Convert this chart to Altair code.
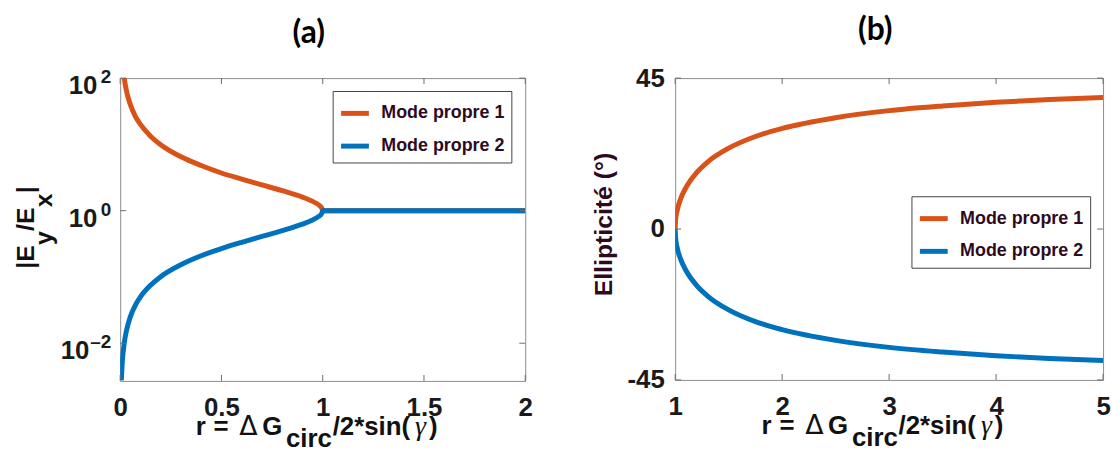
import altair as alt
import pandas as pd

MODE1 = "Mode propre 1"
MODE2 = "Mode propre 2"
ORANGE = "#D95319"
BLUE = "#0072BD"
FRAME = "#8c8c8c"
TICK = "#6e6e6e"
MAROON = "#2d0b1f"
LABEL = "#1a1a1a"
FONT = "Liberation Sans"

# ---- panel (a): |Ey/Ex| versus r
ra_mode1 = [0.015, 0.02, 0.03, 0.05, 0.075, 0.1, 0.15, 0.2, 0.3, 0.4, 0.5, 0.6, 0.7, 0.8, 0.9, 0.95, 0.98, 0.995, 1.0, 1.5, 2.0]
ya_mode1 = [133, 100, 66, 40, 26.5, 20, 13.3, 9.9, 6.5, 4.8, 3.7, 3.0, 2.45, 2.0, 1.6, 1.38, 1.22, 1.1, 1.0, 1.0, 1.0]
ra_mode2 = [0.0055, 0.01, 0.02, 0.03, 0.05, 0.075, 0.1, 0.15, 0.2, 0.3, 0.4, 0.5, 0.6, 0.7, 0.8, 0.9, 0.95, 0.98, 0.995, 1.0, 1.5, 2.0]
ya_mode2 = [0.00275, 0.005, 0.01, 0.015, 0.025, 0.0376, 0.05, 0.075, 0.101, 0.153, 0.209, 0.268, 0.333, 0.408, 0.5, 0.627, 0.724, 0.818, 0.905, 1.0, 1.0, 1.0]

# ---- panel (b): ellipticity (deg) versus r
rb = [1.0, 1.005, 1.02, 1.05, 1.1, 1.2, 1.3, 1.5, 1.75, 2.0, 2.5, 3.0, 3.5, 4.0, 4.5, 5.0]
ell_mode1 = [0, 2.9, 5.7, 8.9, 12.3, 16.8, 19.9, 24.1, 27.6, 30.0, 33.2, 35.3, 36.7, 37.8, 38.6, 39.2]
ell_mode2 = [0, -2.9, -5.7, -8.9, -12.3, -16.8, -19.9, -24.1, -27.6, -30.0, -33.2, -35.3, -36.7, -37.8, -38.6, -39.2]

xa_ticks = [0, 0.5, 1, 1.5, 2]
ya_ticks = [0.01, 1, 100]
ya_exponents = ["\u20132", "0", "2"]
xb_ticks = [1, 2, 3, 4, 5]
yb_ticks = [-45, 0, 45]

WA, HA = 408, 305
WB, HB = 431, 304

df_a = pd.DataFrame({
    "r": ra_mode1 + ra_mode2,
    "v": ya_mode1 + ya_mode2,
    "mode": [MODE1] * len(ra_mode1) + [MODE2] * len(ra_mode2),
})
df_b = pd.DataFrame({
    "r": rb + rb,
    "v": ell_mode1 + ell_mode2,
    "mode": [MODE1] * len(rb) + [MODE2] * len(rb),
})

xa_scale = alt.Scale(domain=[0, 2], nice=False, zero=False)
ya_scale = alt.Scale(type="log", domain=[0.0027, 100], nice=False)
xb_scale = alt.Scale(domain=[1, 5], nice=False, zero=False)
yb_scale = alt.Scale(domain=[-45, 45], nice=False, zero=False)

xa_axis = alt.Axis(title=None, values=xa_ticks, format="~g", labelPadding=14, labelFlush=False)
xb_axis = alt.Axis(title=None, values=xb_ticks, format="~g", labelPadding=14, labelFlush=False)
yb_axis = alt.Axis(title="Ellipticit\u00e9 (\u00b0)", values=yb_ticks, labelPadding=11,
                   labelExpr="replace(datum.label, '\u2212', '-')",
                   titleX=-64, titleY=147, titleAngle=270, titleAlign="center",
                   titleBaseline="alphabetic", titleFont=FONT, titleFontWeight="bold",
                   titleFontSize=25, titleColor=MAROON)


def legend(lx, ly):
    return alt.Legend(
        title=None, orient="none", legendX=lx, legendY=ly,
        symbolType="stroke", symbolStrokeWidth=5, symbolSize=784,
        labelFont=FONT, labelFontWeight="bold", labelFontSize=18, labelColor=MAROON,
        labelOffset=10, rowPadding=6, padding=6,
        strokeColor="#444444", fillColor="white",
    )


def color_enc(lx, ly):
    return alt.Color("mode:N", scale=alt.Scale(domain=[MODE1, MODE2], range=[ORANGE, BLUE]),
                     legend=legend(lx, ly))


def tick_layers(xvals, yvals, xs, ys, xax, yax, w, h, L=6):
    dx = pd.DataFrame({"r": xvals})
    dy = pd.DataFrame({"v": yvals})
    xb = alt.Chart(dx).mark_rule(color=TICK, strokeWidth=1).encode(
        x=alt.X("r:Q", scale=xs, axis=xax), y=alt.value(h), y2=alt.value(h - L))
    xt = alt.Chart(dx).mark_rule(color=TICK, strokeWidth=1).encode(
        x=alt.X("r:Q", scale=xs, axis=xax), y=alt.value(0), y2=alt.value(L))
    yl = alt.Chart(dy).mark_rule(color=TICK, strokeWidth=1).encode(
        y=alt.Y("v:Q", scale=ys, axis=yax), x=alt.value(0), x2=alt.value(L))
    yr = alt.Chart(dy).mark_rule(color=TICK, strokeWidth=1).encode(
        y=alt.Y("v:Q", scale=ys, axis=yax), x=alt.value(w), x2=alt.value(w - L))
    return [xb, xt, yl, yr]


def label(text, x, y, size=26, align="left", angle=0, color="#111111",
          font=FONT, weight="bold", style="normal"):
    kw = dict(text=text, font=font, fontWeight=weight, fontSize=size, align=align,
              baseline="alphabetic", color=color, fontStyle=style)
    if angle:
        kw["angle"] = angle
    return alt.Chart(alt.Data(values=[{}])).mark_text(**kw).encode(
        x=alt.value(x), y=alt.value(y))


def xtitle(x0, ybase):
    # x0 = position of the leading "r" relative to the plot's left edge
    return [
        label("r", x0, ybase),
        label("=", x0 + 18, ybase),
        label("\u0394", x0 + 44, ybase, size=27, font="DejaVu Sans", weight="normal"),
        label("G", x0 + 67, ybase),
        label("circ", x0 + 91, ybase + 13),
        label("/2*sin(", x0 + 138, ybase),
        label("\u03b3", x0 + 221, ybase, size=28, font="Liberation Serif", weight="normal", style="italic"),
        label(")", x0 + 235, ybase),
    ]


# ---------------- panel (a)
lines_a = alt.Chart(df_a).mark_line(strokeWidth=5, interpolate="monotone", clip=True).encode(
    x=alt.X("r:Q", scale=xa_scale, axis=xa_axis),
    y=alt.Y("v:Q", scale=ya_scale, axis=None),
    color=color_enc(214, 13),
)

# log-axis tick labels: "10" with a raised exponent
df_exp = pd.DataFrame({"v": ya_ticks, "e": ya_exponents})
exp_marks = alt.Chart(df_exp).mark_text(
    font=FONT, fontWeight="bold", fontSize=19, align="right", baseline="alphabetic",
    color=LABEL, dy=5,
).encode(y=alt.Y("v:Q", scale=ya_scale, axis=None), x=alt.value(-9), text="e:N")
ten_pos = alt.Chart(df_exp[df_exp["v"] >= 1]).mark_text(
    font=FONT, fontWeight="bold", fontSize=26, align="right", baseline="alphabetic",
    color=LABEL, dy=16, text="10",
).encode(y=alt.Y("v:Q", scale=ya_scale, axis=None), x=alt.value(-23))
ten_neg = alt.Chart(df_exp[df_exp["v"] < 1]).mark_text(
    font=FONT, fontWeight="bold", fontSize=26, align="right", baseline="alphabetic",
    color=LABEL, dy=16, text="10",
).encode(y=alt.Y("v:Q", scale=ya_scale, axis=None), x=alt.value(-31))

ya_title = [
    label("|E", -87, 192, size=25, angle=270),
    label("y", -69, 168, size=25, angle=270),
    label("/E", -87, 154, size=25, angle=270),
    label("x", -69, 130, size=25, angle=270),
    label("|", -87, 116, size=25, angle=270),
]

panel_a = alt.layer(
    lines_a,
    *tick_layers(xa_ticks, ya_ticks, xa_scale, ya_scale, xa_axis, None, WA, HA),
    exp_marks, ten_pos, ten_neg,
    *xtitle(76, 359),
    *ya_title,
).properties(
    width=WA, height=HA,
    title=alt.TitleParams("(a)", font="Lato", fontSize=32, fontWeight="bold", color="#000000",
                          dx=-14, offset=18, anchor="middle"),
)

# ---------------- panel (b)
lines_b = alt.Chart(df_b).mark_line(strokeWidth=5, interpolate="monotone", clip=True).encode(
    x=alt.X("r:Q", scale=xb_scale, axis=xb_axis),
    y=alt.Y("v:Q", scale=yb_scale, axis=yb_axis),
    color=color_enc(238, 119),
)

panel_b = alt.layer(
    lines_b,
    *tick_layers(xb_ticks, yb_ticks, xb_scale, yb_scale, xb_axis, yb_axis, WB, HB),
    *xtitle(87, 358),
).properties(
    width=WB, height=HB,
    title=alt.TitleParams("(b)", font="Lato", fontSize=32, fontWeight="bold", color="#000000",
                          dx=-14, offset=18, anchor="middle"),
)

chart = alt.hconcat(panel_a, panel_b, spacing=58).resolve_scale(
    color="independent"
).resolve_legend(color="independent").properties(
    padding={"left": 5, "top": 4, "right": 0, "bottom": 0}
).configure_view(
    stroke=FRAME, strokeWidth=1
).configure_axis(
    grid=False, domain=False, ticks=False,
    labelFont=FONT, labelFontWeight="bold", labelFontSize=26, labelColor=LABEL,
)

chart.save("out.html", embed_options={"renderer": "svg", "actions": False})
